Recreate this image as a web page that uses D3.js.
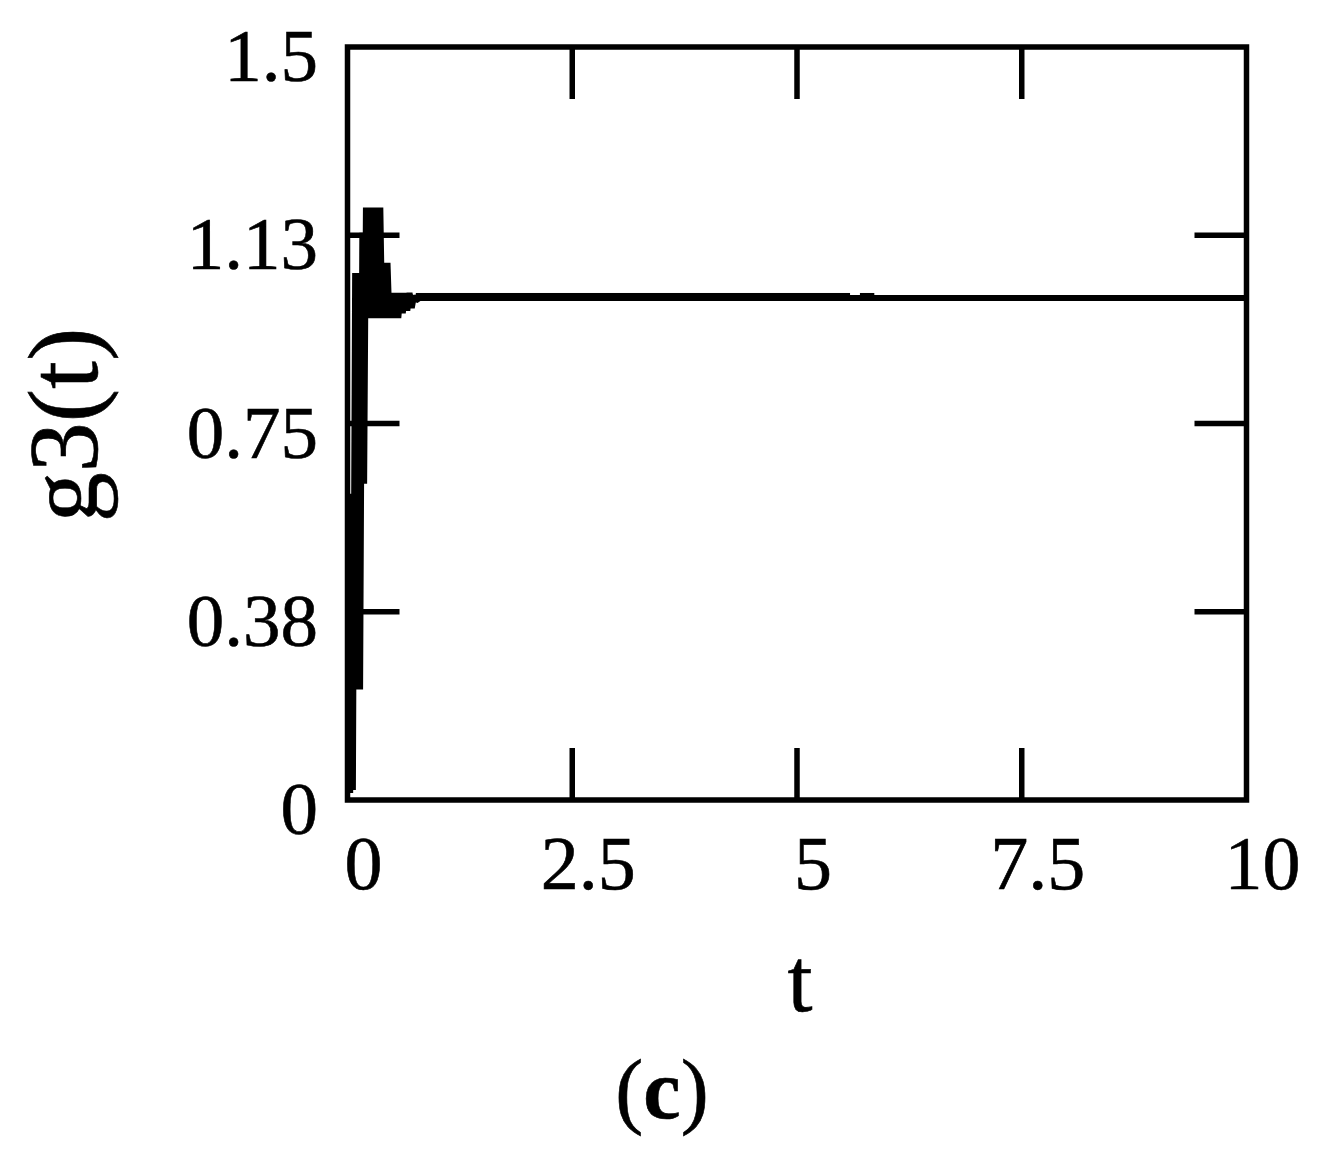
<!DOCTYPE html>
<html>
<head>
<meta charset="utf-8">
<script src="https://cdn.jsdelivr.net/npm/d3@7/dist/d3.min.js"></script>
<style>
  html, body { margin: 0; padding: 0; background: #fff; }
  svg text { font-family: "Liberation Serif", "Times New Roman", serif; fill: #000; stroke: #000; stroke-width: 0.6; }
</style>
</head>
<body>
<svg id="chart" width="1318" height="1153"></svg>
<script>
// ---- data ----
const tValues = [0.000, 0.030, 0.045, 0.060, 0.085, 0.100, 0.125, 0.140, 0.165, 0.185,
                 0.205, 0.225, 0.245, 0.265, 0.285, 0.305, 0.325, 0.345, 0.365, 0.385,
                 0.405, 0.425, 0.445, 0.465, 0.490, 0.515, 0.540, 0.565, 0.590, 0.615,
                 0.640, 0.665, 0.690, 0.715, 0.740, 0.760, 0.800, 10.0];
const gValues = [0.02, 0.02, 0.61, 0.02, 1.05, 0.22, 1.05, 0.22, 1.13, 0.63,
                 1.18, 0.96, 1.18, 0.96, 1.18, 0.96, 1.18, 0.96, 1.18, 0.96,
                 1.07, 0.96, 1.07, 0.96, 1.01, 0.96, 1.01, 0.96, 1.01, 0.97,
                 1.01, 0.975, 1.01, 0.98, 1.005, 0.995, 1.0, 1.0];
// ripple band (small chattering around steady state)
const bandStart = [0.76, 5.70];
const bandEnd   = [5.59, 5.86];
const bandLow   = [1.0, 1.0];
const bandHigh  = [1.01, 1.01];

const xTicks = [0, 2.5, 5, 7.5, 10];
const xTickLabels = ["0", "2.5", "5", "7.5", "10"];
const yTicks = [0, 0.375, 0.75, 1.125, 1.5];
const yTickLabels = ["0", "0.38", "0.75", "1.13", "1.5"];

(function () {
// ---- layout ----
const svg = d3.select("#chart");
const pLeft = 347.5, pRight = 1246.5, pTop = 47, pBottom = 800;
const x = d3.scaleLinear().domain([0, 10]).range([pLeft, pRight]);
const y = d3.scaleLinear().domain([0, 1.5]).range([pBottom, pTop]);
const tickLen = 52;
const sw = 5.5;

// ripple band
const bandData = bandStart.map((s, i) => ({s, e: bandEnd[i], lo: bandLow[i], hi: bandHigh[i]}));
svg.append("g").selectAll("rect").data(bandData).join("rect")
  .attr("x", d => x(d.s)).attr("width", d => x(d.e) - x(d.s))
  .attr("y", d => y(d.hi)).attr("height", d => y(d.lo) - y(d.hi))
  .attr("fill", "#000");

// main line
const pts = tValues.map((t, i) => [t, gValues[i]]);
svg.append("path")
  .datum(pts)
  .attr("d", d3.line().x(d => x(d[0])).y(d => y(d[1])))
  .attr("fill", "none").attr("stroke", "#000").attr("stroke-width", 6)
  .attr("stroke-linejoin", "miter").attr("stroke-miterlimit", 1.5);

// inner ticks
const innerX = xTicks.slice(1, -1), innerY = yTicks.slice(1, -1);
const tickG = svg.append("g").attr("stroke", "#000").attr("stroke-width", sw);
tickG.append("g").selectAll("line").data(innerX).join("line")
  .attr("x1", d => x(d)).attr("x2", d => x(d)).attr("y1", pBottom).attr("y2", pBottom - tickLen);
tickG.append("g").selectAll("line").data(innerX).join("line")
  .attr("x1", d => x(d)).attr("x2", d => x(d)).attr("y1", pTop).attr("y2", pTop + tickLen);
tickG.append("g").selectAll("line").data(innerY).join("line")
  .attr("y1", d => y(d)).attr("y2", d => y(d)).attr("x1", pLeft).attr("x2", pLeft + tickLen);
tickG.append("g").selectAll("line").data(innerY).join("line")
  .attr("y1", d => y(d)).attr("y2", d => y(d)).attr("x1", pRight).attr("x2", pRight - tickLen);

// frame
svg.append("rect")
  .attr("x", pLeft).attr("y", pTop).attr("width", pRight - pLeft).attr("height", pBottom - pTop)
  .attr("fill", "none").attr("stroke", "#000").attr("stroke-width", sw);

// tick labels
svg.append("g").selectAll("text").data(xTicks).join("text")
  .attr("x", d => x(d) + 16).attr("y", 889)
  .attr("text-anchor", "middle").attr("font-size", 76)
  .text((d, i) => xTickLabels[i]);
svg.append("g").selectAll("text").data(yTicks).join("text")
  .attr("x", 318).attr("y", d => y(d) + 34)
  .attr("text-anchor", "end").attr("font-size", 75)
  .text((d, i) => yTickLabels[i]);

// axis titles
svg.append("text")
  .attr("transform", "translate(97,425) rotate(-90)")
  .attr("text-anchor", "middle").attr("font-size", 100)
  .text("g3(t)");
svg.append("text")
  .attr("x", 800).attr("y", 1011)
  .attr("text-anchor", "middle").attr("font-size", 90)
  .text("t");
const cap = svg.append("text")
  .attr("x", 662).attr("y", 1118)
  .attr("text-anchor", "middle").attr("font-size", 84);
cap.append("tspan").text("(");
cap.append("tspan").attr("font-weight", "bold").text("c");
cap.append("tspan").text(")");
})();
</script>
</body>
</html>
